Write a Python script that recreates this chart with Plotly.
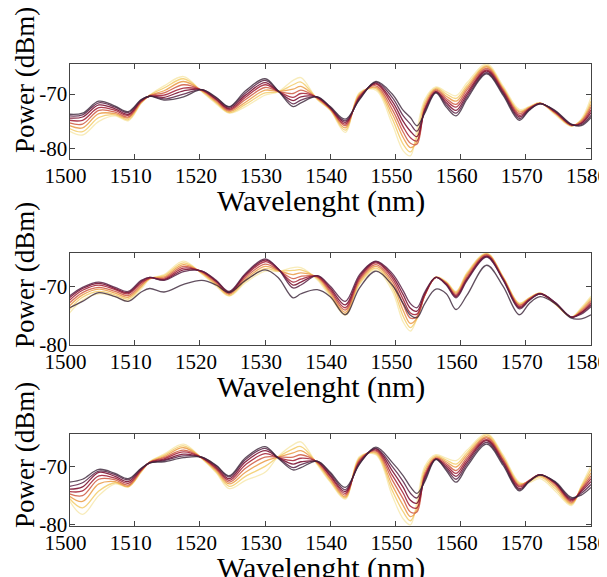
import plotly.graph_objects as go

wavelength = [1500, 1502, 1504.5, 1507, 1509, 1511, 1512.3, 1514.5, 1517.5, 1520.3,
              1522.5, 1524.5, 1527, 1530, 1532, 1534.3, 1535.5, 1538, 1540, 1542.3,
              1544.5, 1547, 1549.5, 1551.2, 1552.3, 1553.3, 1554.5, 1556.2, 1557.8, 1559.3,
              1561, 1564, 1566.5, 1569, 1570.5, 1572.2, 1574.5, 1577, 1578.5, 1580]

# ---- panel 1 (top) ----
p1_s0 = [-73.7, -73.5, -71.3, -72.2, -73.2, -71.0, -70.4, -71.1, -70.5, -69.2, -70.6, -72.3, -69.4, -67.2, -69.4, -72.3, -71.6, -70.5, -72.3, -74.6, -71.0, -67.7, -70.0, -73.0, -74.3, -75.8, -73.5, -69.8, -72.4, -74.0, -70.9, -66.3, -70.2, -74.8, -73.0, -71.8, -73.0, -75.5, -75.8, -74.3]
p1_s1 = [-74.0, -73.8, -71.6, -72.4, -73.4, -71.1, -70.4, -70.9, -70.0, -69.2, -70.7, -72.4, -69.8, -67.5, -69.4, -71.8, -71.1, -70.5, -72.4, -74.9, -70.9, -67.8, -70.6, -74.0, -75.5, -76.8, -73.3, -69.7, -72.0, -73.5, -70.5, -66.1, -69.9, -74.5, -72.9, -71.8, -73.1, -75.6, -75.6, -73.9]
p1_s2 = [-74.4, -74.2, -72.0, -72.7, -73.7, -71.2, -70.4, -70.6, -69.4, -69.2, -70.9, -72.6, -70.2, -67.9, -69.5, -71.2, -70.5, -70.6, -72.5, -75.2, -70.7, -68.0, -71.3, -75.0, -76.8, -77.8, -73.0, -69.6, -71.6, -73.0, -70.1, -65.8, -69.7, -74.2, -72.8, -71.7, -73.2, -75.6, -75.4, -73.4]
p1_s3 = [-74.8, -74.8, -72.5, -73.0, -73.9, -71.3, -70.4, -70.2, -68.9, -69.3, -71.0, -72.8, -70.6, -68.3, -69.5, -70.6, -69.9, -70.6, -72.6, -75.5, -70.5, -68.2, -72.0, -76.0, -78.0, -78.6, -72.8, -69.5, -71.2, -72.4, -69.7, -65.6, -69.4, -73.9, -72.7, -71.7, -73.3, -75.7, -75.3, -72.9]
p1_s4 = [-75.3, -75.5, -73.0, -73.3, -74.2, -71.4, -70.3, -69.8, -68.3, -69.3, -71.2, -73.0, -71.0, -68.8, -69.5, -69.9, -69.3, -70.7, -72.7, -75.8, -70.3, -68.5, -72.8, -77.0, -79.0, -79.2, -72.5, -69.3, -70.8, -71.9, -69.2, -65.3, -69.2, -73.6, -72.6, -71.7, -73.4, -75.7, -75.1, -72.4]
p1_s5 = [-75.8, -76.2, -73.6, -73.6, -74.4, -71.5, -70.3, -69.4, -67.7, -69.4, -71.4, -73.2, -71.5, -69.3, -69.5, -69.1, -68.6, -70.8, -72.8, -76.2, -70.1, -68.8, -73.6, -78.0, -79.8, -78.8, -72.0, -69.1, -70.4, -71.3, -68.8, -65.0, -69.0, -73.3, -72.5, -71.7, -73.5, -75.8, -74.9, -71.9]
p1_s6 = [-76.3, -76.9, -74.3, -73.8, -74.7, -71.6, -70.2, -68.9, -67.2, -69.5, -71.6, -73.4, -71.9, -69.8, -69.6, -68.3, -67.8, -70.9, -72.9, -76.6, -69.9, -69.0, -74.5, -79.2, -80.6, -77.8, -71.5, -68.9, -70.0, -70.8, -68.4, -64.8, -68.8, -73.1, -72.4, -71.6, -73.6, -75.8, -74.8, -71.3]
p1_s7 = [-76.8, -77.5, -75.0, -74.0, -74.9, -71.7, -70.2, -68.5, -66.8, -69.6, -71.8, -73.5, -72.3, -70.2, -69.6, -67.5, -67.0, -71.0, -73.0, -77.0, -69.7, -69.3, -75.5, -80.4, -81.3, -76.5, -71.0, -68.7, -69.6, -70.3, -67.9, -64.5, -68.5, -72.8, -72.3, -71.6, -73.8, -75.9, -74.6, -70.6]

# ---- panel 2 (middle) ----
p2_s0 = [-73.7, -72.6, -71.1, -71.8, -72.6, -71.0, -70.4, -71.0, -69.7, -69.0, -69.8, -71.1, -69.0, -67.2, -68.5, -72.0, -71.3, -70.6, -71.8, -74.9, -70.3, -67.4, -69.8, -73.0, -75.0, -75.4, -73.0, -70.5, -71.3, -74.0, -71.5, -66.4, -70.0, -74.9, -73.0, -71.8, -73.0, -75.5, -75.6, -74.9]
p2_s1 = [-71.7, -70.2, -69.3, -70.2, -70.9, -69.0, -68.5, -69.0, -67.5, -67.4, -69.0, -70.9, -67.8, -65.3, -67.0, -70.3, -69.8, -68.2, -70.0, -72.6, -68.0, -65.7, -67.8, -70.8, -73.0, -73.7, -71.0, -68.5, -69.8, -72.0, -69.0, -65.0, -68.9, -73.9, -72.5, -71.3, -72.8, -75.3, -74.8, -73.5]
p2_s2 = [-72.0, -70.4, -69.5, -70.4, -71.1, -69.2, -68.5, -68.9, -67.2, -67.4, -69.1, -71.0, -68.0, -65.5, -67.0, -69.8, -69.3, -68.2, -70.3, -73.2, -68.3, -65.8, -68.2, -71.5, -73.8, -74.3, -71.3, -68.5, -69.7, -71.8, -68.8, -64.9, -68.8, -73.7, -72.4, -71.3, -72.8, -75.3, -74.6, -73.2]
p2_s3 = [-72.4, -70.7, -69.8, -70.6, -71.3, -69.4, -68.6, -68.8, -66.9, -67.5, -69.2, -71.1, -68.2, -65.8, -67.1, -69.3, -68.8, -68.3, -70.6, -73.7, -68.6, -66.0, -68.6, -72.3, -74.6, -74.8, -71.5, -68.5, -69.6, -71.6, -68.6, -64.8, -68.7, -73.5, -72.3, -71.3, -72.9, -75.3, -74.5, -72.9]
p2_s4 = [-72.9, -71.1, -70.2, -70.9, -71.6, -69.7, -68.6, -68.6, -66.6, -67.6, -69.4, -71.3, -68.5, -66.2, -67.2, -68.7, -68.3, -68.4, -70.9, -74.1, -68.9, -66.3, -69.1, -73.2, -75.5, -75.2, -71.6, -68.5, -69.5, -71.4, -68.3, -64.6, -68.6, -73.3, -72.2, -71.3, -72.9, -75.3, -74.3, -72.6]
p2_s5 = [-73.4, -71.5, -70.5, -71.2, -71.9, -70.0, -68.7, -68.4, -66.3, -67.7, -69.6, -71.4, -68.8, -66.6, -67.3, -68.0, -67.7, -68.5, -71.2, -74.5, -69.2, -66.6, -69.6, -74.2, -76.4, -75.5, -71.6, -68.5, -69.4, -71.2, -68.0, -64.5, -68.5, -73.2, -72.1, -71.2, -73.0, -75.3, -74.1, -72.3]
p2_s6 = [-74.0, -71.9, -70.9, -71.5, -72.2, -70.2, -68.7, -68.2, -66.0, -67.8, -69.8, -71.6, -69.1, -67.0, -67.4, -67.3, -67.2, -68.7, -71.5, -74.8, -69.5, -66.9, -70.2, -75.2, -77.1, -75.6, -71.5, -68.5, -69.3, -71.0, -67.8, -64.4, -68.4, -73.0, -72.1, -71.2, -73.0, -75.3, -73.9, -72.0]
p2_s7 = [-74.6, -72.4, -71.3, -71.8, -72.5, -70.5, -68.8, -68.0, -65.7, -67.9, -70.0, -71.7, -69.4, -67.4, -67.5, -66.8, -66.8, -68.9, -71.8, -75.0, -69.7, -67.2, -70.8, -76.2, -77.7, -75.5, -71.3, -68.4, -69.2, -70.9, -67.6, -64.3, -68.3, -72.9, -72.0, -71.2, -73.1, -75.3, -73.7, -71.7]

# ---- panel 3 (bottom) ----
p3_s0 = [-72.7, -72.2, -70.5, -71.2, -72.1, -70.3, -69.4, -69.2, -68.5, -68.4, -69.8, -71.6, -68.5, -66.6, -68.6, -70.6, -70.2, -69.1, -71.0, -73.6, -69.6, -66.7, -69.3, -71.6, -73.5, -74.6, -72.6, -68.8, -70.7, -72.7, -70.0, -66.2, -69.8, -74.2, -72.6, -71.5, -72.6, -75.3, -74.9, -73.6]
p3_s1 = [-73.4, -72.8, -70.8, -71.4, -72.3, -70.4, -69.4, -69.0, -68.2, -68.4, -69.9, -71.8, -68.8, -66.9, -68.5, -70.2, -69.7, -69.1, -71.2, -74.0, -69.5, -66.9, -70.0, -72.6, -74.6, -75.4, -72.3, -68.8, -70.4, -72.2, -69.6, -65.9, -69.5, -74.0, -72.6, -71.4, -72.7, -75.5, -74.6, -73.1]
p3_s2 = [-73.9, -73.5, -71.0, -71.7, -72.6, -70.5, -69.4, -68.9, -67.9, -68.5, -70.1, -72.1, -69.2, -67.3, -68.5, -69.6, -69.2, -69.2, -71.5, -74.3, -69.3, -67.0, -70.7, -73.6, -75.8, -76.3, -72.0, -68.7, -70.1, -71.7, -69.2, -65.6, -69.3, -73.8, -72.5, -71.4, -72.8, -75.7, -74.3, -72.6]
p3_s3 = [-74.3, -74.2, -71.6, -72.0, -72.9, -70.6, -69.3, -68.7, -67.5, -68.5, -70.3, -72.4, -69.7, -67.8, -68.5, -69.0, -68.6, -69.2, -71.7, -74.6, -69.1, -67.2, -71.5, -74.6, -76.8, -77.1, -71.7, -68.7, -69.8, -71.2, -68.8, -65.4, -69.0, -73.5, -72.5, -71.4, -72.9, -75.9, -74.1, -72.1]
p3_s4 = [-74.7, -75.0, -72.2, -72.3, -73.2, -70.7, -69.3, -68.5, -67.2, -68.5, -70.5, -72.7, -70.3, -68.4, -68.4, -68.4, -68.0, -69.3, -72.0, -74.9, -68.9, -67.4, -72.3, -75.6, -77.8, -77.8, -71.4, -68.6, -69.5, -70.7, -68.4, -65.1, -68.8, -73.3, -72.4, -71.4, -73.1, -76.1, -73.9, -71.6]
p3_s5 = [-75.1, -76.0, -73.0, -72.6, -73.4, -70.8, -69.3, -68.3, -66.8, -68.6, -70.7, -73.0, -71.0, -69.1, -68.4, -67.7, -67.3, -69.4, -72.2, -75.2, -68.7, -67.6, -73.2, -76.7, -78.6, -77.5, -71.0, -68.4, -69.2, -70.1, -68.0, -64.9, -68.5, -73.1, -72.5, -71.6, -73.4, -76.3, -73.7, -71.1]
p3_s6 = [-75.5, -77.1, -74.2, -72.8, -73.5, -70.9, -69.2, -68.1, -66.5, -68.6, -70.9, -73.4, -71.7, -70.0, -68.4, -67.0, -66.6, -69.5, -72.5, -75.4, -68.5, -67.8, -74.1, -77.8, -79.3, -76.9, -70.5, -68.2, -68.9, -69.6, -67.6, -64.6, -68.3, -72.9, -72.6, -71.8, -73.8, -76.5, -73.5, -70.5]
p3_s7 = [-75.9, -78.2, -75.0, -73.0, -73.5, -71.0, -69.2, -67.9, -66.2, -68.7, -71.1, -73.8, -72.4, -71.0, -68.3, -66.3, -65.8, -69.7, -72.7, -75.6, -68.3, -68.0, -75.0, -79.0, -80.0, -76.0, -70.0, -68.0, -68.6, -69.0, -67.2, -64.4, -68.0, -72.7, -72.8, -72.1, -74.2, -76.7, -73.3, -69.9]

x_ticks = [1500, 1510, 1520, 1530, 1540, 1550, 1560, 1570, 1580]
y_ticks = [-70, -80]
x_title = "Wavelenght (nm)"
y_title = "Power (dBm)"

colors = ["#3a2438", "#5a2245", "#7e1535", "#a82a3e", "#d2644c", "#eca152", "#f4cd6a", "#f7e8aa"]
opac = [0.8, 0.85, 0.9, 0.9, 0.9, 0.9, 0.85, 0.8]

panels = [
    [p1_s0, p1_s1, p1_s2, p1_s3, p1_s4, p1_s5, p1_s6, p1_s7],
    [p2_s0, p2_s1, p2_s2, p2_s3, p2_s4, p2_s5, p2_s6, p2_s7],
    [p3_s0, p3_s1, p3_s2, p3_s3, p3_s4, p3_s5, p3_s6, p3_s7],
]
y_ranges = [[-81.8, -64.5], [-80.1, -64.3], [-80.2, -64.45]]

# The page body has an 8px margin, so the figure is drawn 8px smaller
# and all target page coordinates are shifted by OFF.
OFF = 8
W, H = 607 - OFF, 577 - OFF
boxes = [(64, 158.5), (253, 345), (434, 526)]          # page px (top, bottom)
x_left, x_right = 69.5, 591                              # page px
xtitle_y = [201, 387, 568]                               # page px centres
ytitle_y = [80, 275, 455]
ytitle_x = 25
xtitle_x = 321


def px(v):
    return (v - OFF) / W


def py(v):
    return 1 - (v - OFF) / H


fig = go.Figure()
font_family = "'Liberation Serif', 'Times New Roman', Times, serif"

layout = dict(
    width=W, height=H, margin=dict(l=0, r=0, t=0, b=0, autoexpand=False),
    paper_bgcolor="white", plot_bgcolor="white", showlegend=False,
)
annotations = []
for i, series in enumerate(panels):
    xa = "x" if i == 0 else f"x{i+1}"
    ya = "y" if i == 0 else f"y{i+1}"
    for j in reversed(range(len(series))):
        fig.add_trace(go.Scatter(
            x=wavelength, y=series[j], mode="lines", xaxis=xa, yaxis=ya,
            line=dict(color=colors[j], width=1.3, shape="spline", smoothing=1.0),
            opacity=opac[j], hoverinfo="skip",
        ))
    top, bot = boxes[i]
    axis_common = dict(showline=True, mirror="ticks", linecolor="#444", linewidth=1,
                       ticks="inside", ticklen=5, tickcolor="#444", tickwidth=1,
                       showgrid=False, zeroline=False, automargin=False,
                       ticklabeloverflow="allow")
    layout["xaxis" if i == 0 else f"xaxis{i+1}"] = dict(
        domain=[px(x_left), px(x_right)], range=[1500, 1580], tickvals=x_ticks,
        anchor=ya, ticklabelstandoff=-2, ticklabelshift=-4,
        tickfont=dict(family=font_family, size=21, color="black"),
        **axis_common)
    layout["yaxis" if i == 0 else f"yaxis{i+1}"] = dict(
        domain=[py(bot), py(top)], range=y_ranges[i], tickvals=y_ticks,
        ticktext=[str(v) for v in y_ticks], anchor=xa, ticklabelstandoff=-3,
        tickfont=dict(family=font_family, size=21, color="black"),
        **axis_common)
    annotations.append(dict(
        text=x_title, xref="paper", yref="paper", x=px(xtitle_x),
        y=py(xtitle_y[i]), xanchor="center", yanchor="middle", showarrow=False,
        font=dict(family=font_family, size=30, color="black")))
    annotations.append(dict(
        text=y_title, xref="paper", yref="paper", x=px(ytitle_x),
        y=py(ytitle_y[i]), xanchor="center", yanchor="middle",
        textangle=-90, showarrow=False,
        font=dict(family=font_family, size=27, color="black")))

layout["annotations"] = annotations
fig.update_layout(**layout)
fig.write_html("out.html")
